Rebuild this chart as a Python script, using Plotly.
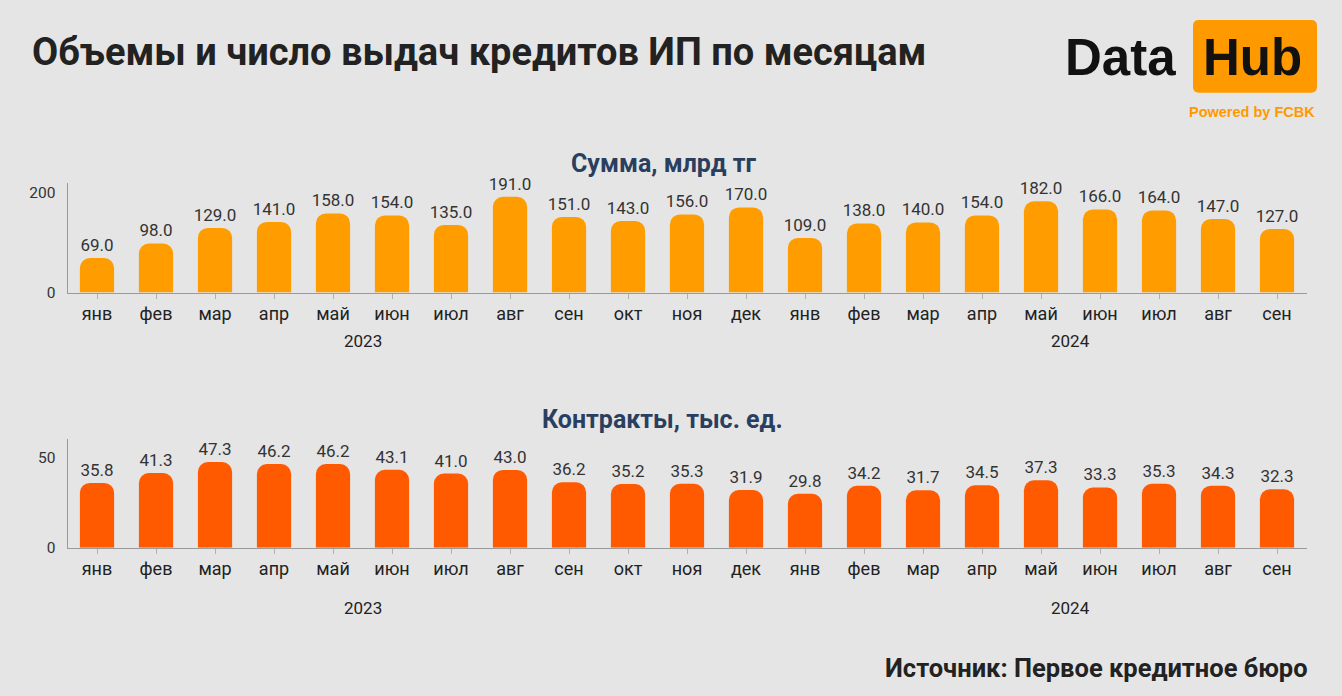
import plotly.graph_objects as go

months = ["янв", "фев", "мар", "апр", "май", "июн", "июл", "авг", "сен", "окт", "ноя", "дек",
          "янв", "фев", "мар", "апр", "май", "июн", "июл", "авг", "сен"]
years = ["2023"] * 12 + ["2024"] * 9
sums = [69.0, 98.0, 129.0, 141.0, 158.0, 154.0, 135.0, 191.0, 151.0, 143.0, 156.0, 170.0,
        109.0, 138.0, 140.0, 154.0, 182.0, 166.0, 164.0, 147.0, 127.0]
contracts = [35.8, 41.3, 47.3, 46.2, 46.2, 43.1, 41.0, 43.0, 36.2, 35.2, 35.3, 31.9,
             29.8, 34.2, 31.7, 34.5, 37.3, 33.3, 35.3, 34.3, 32.3]
year_labels = ["2023", "2024"]
year_label_pos = [4.5, 16.5]

idx = list(range(len(months)))
BG = "#e5e5e5"
FONT = "Roboto"

W, H = 1342, 706
S = 1.0148


def yp(py):
    return 1 - py * S / H


fig = go.Figure()
fig.add_trace(go.Bar(x=idx, y=sums, marker=dict(color="#ff9d00", line=dict(width=0)),
                     texttemplate="%{y:.1f}", textposition="outside", cliponaxis=False,
                     constraintext="none",
                     textfont=dict(size=17, color="#333333", family=FONT),
                     xaxis="x", yaxis="y", showlegend=False))
fig.add_trace(go.Bar(x=idx, y=contracts, marker=dict(color="#ff5a00", line=dict(width=0)),
                     texttemplate="%{y:.1f}", textposition="outside", cliponaxis=False,
                     constraintext="none",
                     textfont=dict(size=17, color="#333333", family=FONT),
                     xaxis="x2", yaxis="y2", showlegend=False))

xdom = [67.5 / W, 1306.5 / W]

axis_common = dict(showline=True, linecolor="#9a9a9a", linewidth=1, showgrid=False, zeroline=False)
xcommon = dict(axis_common, tickmode="array", tickvals=idx, ticktext=months,
               range=[-0.5, len(months) - 0.5], ticks="outside", ticklen=5, tickcolor="#b0b0b0",
               tickfont=dict(size=18, color="#222222", family=FONT), domain=xdom)
ycommon = dict(axis_common, ticks="", ticklabelstandoff=8,
               tickfont=dict(size=15.5, color="#333333", family=FONT))

fig.update_layout(
    width=W, height=H, autosize=False,
    paper_bgcolor=BG, plot_bgcolor=BG,
    margin=dict(l=0, r=0, t=0, b=0),
    bargap=0.42, barcornerradius=10,
    font=dict(family=FONT),
    xaxis=dict(xcommon, anchor="y"),
    yaxis=dict(ycommon, domain=[yp(292), yp(183)], range=[0, 218], tickvals=[0, 200], anchor="x"),
    xaxis2=dict(xcommon, anchor="y2"),
    yaxis2=dict(ycommon, domain=[yp(546.7), yp(438.3)], range=[0, 60], tickvals=[0, 50], anchor="x2"),
)

ann = []
ann.append(dict(text="<b>Объемы и число выдач кредитов ИП по месяцам</b>", x=30 / W, y=yp(52),
                xref="paper", yref="paper", xanchor="left", yanchor="middle", showarrow=False,
                font=dict(size=38, color="#222222", family=FONT)))
ann.append(dict(text="<b>Сумма, млрд тг</b>", x=663 / W, y=yp(163), xref="paper", yref="paper",
                xanchor="center", yanchor="middle", showarrow=False,
                font=dict(size=25, color="#2a3f5f", family=FONT)))
ann.append(dict(text="<b>Контракты, тыс. ед.</b>", x=662 / W, y=yp(419), xref="paper", yref="paper",
                xanchor="center", yanchor="middle", showarrow=False,
                font=dict(size=25, color="#2a3f5f", family=FONT)))
for lbl, pos in zip(year_labels, year_label_pos):
    ann.append(dict(text=lbl, x=pos, y=yp(340), xref="x", yref="paper", xanchor="center",
                    yanchor="middle", showarrow=False, font=dict(size=17, color="#222222", family=FONT)))
    ann.append(dict(text=lbl, x=pos, y=yp(607), xref="x2", yref="paper", xanchor="center",
                    yanchor="middle", showarrow=False, font=dict(size=17, color="#222222", family=FONT)))
ann.append(dict(text="<b>Источник: Первое кредитное бюро</b>", x=1310 / W, y=yp(667), xref="paper",
                yref="paper", xanchor="right", yanchor="middle", showarrow=False,
                font=dict(size=25.5, color="#222222", family=FONT)))
# Logo
ann.append(dict(text="<b>Data</b>", x=1063 / W, y=yp(57), xref="paper", yref="paper", xanchor="left",
                yanchor="middle", showarrow=False, font=dict(size=51, color="#111111", family="Liberation Sans")))
ann.append(dict(text="<b>Hub</b>", x=1252 / W, y=yp(57), xref="paper", yref="paper", xanchor="center",
                yanchor="middle", showarrow=False, font=dict(size=51, color="#111111", family="Liberation Sans")))
ann.append(dict(text="<b>Powered by FCBK</b>", x=1317 / W, y=yp(111.5), xref="paper", yref="paper",
                xanchor="right", yanchor="middle", showarrow=False,
                font=dict(size=14.5, color="#ff9900", family="Liberation Sans")))
fig.update_layout(annotations=ann)

x0, x1, y0, y1 = 1193 / W, 1317 / W, yp(92.5), yp(20)
rx, ry = 6 / W, 6 / H
path = (f"M {x0+rx},{y1} L {x1-rx},{y1} Q {x1},{y1} {x1},{y1-ry} L {x1},{y0+ry} Q {x1},{y0} {x1-rx},{y0} "
        f"L {x0+rx},{y0} Q {x0},{y0} {x0},{y0+ry} L {x0},{y1-ry} Q {x0},{y1} {x0+rx},{y1} Z")
fig.add_shape(type="path", path=path, xref="paper", yref="paper", fillcolor="#ff9900",
              line=dict(width=0), layer="below")

fig.write_html("out.html", config={"displayModeBar": False, "responsive": False},
               post_script="document.body.style.margin='0';document.body.style.overflow='hidden';"
                           "document.body.style.background='#e5e5e5';")
